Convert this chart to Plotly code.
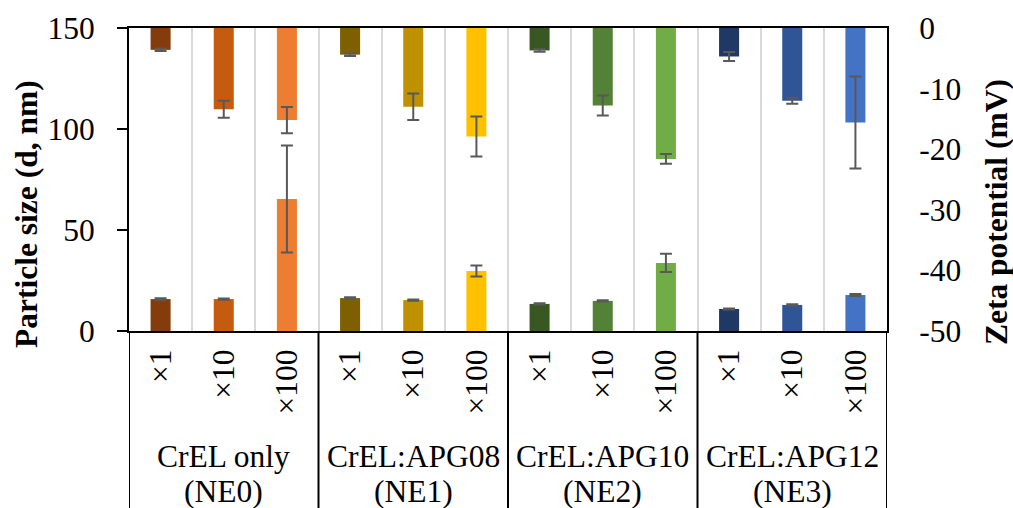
import plotly.graph_objects as go

# ---------------- data ----------------
groups = ["CrEL only", "CrEL:APG08", "CrEL:APG10", "CrEL:APG12"]
group_codes = ["(NE0)", "(NE1)", "(NE2)", "(NE3)"]
dilutions = ["×1", "×10", "×100"]

size_nm = [15.8, 15.8, 65.3, 16.3, 15.3, 29.7, 13.4, 14.9, 33.7, 10.9, 12.9, 17.8]
size_err = [0.4, 0.3, 26.5, 0.4, 0.3, 2.7, 0.3, 0.3, 4.5, 0.3, 0.3, 0.5]
zeta_mv = [-3.6, -13.4, -15.2, -4.4, -13.0, -17.9, -3.7, -12.8, -21.6, -4.7, -12.0, -15.6]
zeta_err = [0.2, 1.4, 2.15, 0.2, 2.2, 3.3, 0.2, 1.65, 0.8, 0.75, 0.5, 7.6]

size_ticks = [0, 50, 100, 150]
zeta_ticks = [0, -10, -20, -30, -40, -50]
zeta_ticktext = ["0", "-10", "-20", "-30", "-40", "-50"]

bar_colors = ["#843C0C", "#C55A11", "#ED7D31",
              "#7F6000", "#BF9000", "#FFC000",
              "#385723", "#538135", "#70AD47",
              "#203864", "#2F5597", "#4472C4"]

FONT = "Liberation Serif"
FS = 31.5
n = len(size_nm)
xpos = list(range(n))
ticklabels = dilutions * len(groups)

fig = go.Figure()
fig.add_trace(go.Bar(
    x=xpos, y=size_nm, width=0.317, marker=dict(color=bar_colors, line=dict(width=0)),
    error_y=dict(type="data", array=size_err, visible=True, color="#595959", thickness=2, width=6),
    yaxis="y", showlegend=False, name="Particle size"))
fig.add_trace(go.Bar(
    x=xpos, y=zeta_mv, width=0.317, marker=dict(color=bar_colors, line=dict(width=0)),
    error_y=dict(type="data", array=zeta_err, visible=True, color="#595959", thickness=2, width=6),
    yaxis="y2", showlegend=False, name="Zeta potential"))

L, R, T, B = 129, 126, 28, 177
W, H = 1013, 508
pw, ph = W - L - R, H - T - B

def px_to_paper_y(py):
    return (H - B - py) / ph

def px_to_paper_x(px):
    return (px - L) / pw

shapes = []
for xb in [-0.5, 2.5, 5.5, 8.5, 11.5]:
    shapes.append(dict(type="line", xref="x", yref="paper", x0=xb, x1=xb,
                       y0=0, y1=px_to_paper_y(H + 5), line=dict(color="black", width=2)))

annotations = []
for i, (g, c) in enumerate(zip(groups, group_codes)):
    xc = 3 * i + 1
    annotations.append(dict(x=xc, y=px_to_paper_y(456), xref="x", yref="paper", text=g,
                            showarrow=False, xanchor="center", yanchor="middle",
                            font=dict(family=FONT, size=FS, color="black")))
    annotations.append(dict(x=xc, y=px_to_paper_y(492), xref="x", yref="paper", text=c,
                            showarrow=False, xanchor="center", yanchor="middle",
                            font=dict(family=FONT, size=FS, color="black")))

annotations.append(dict(x=px_to_paper_x(26), y=px_to_paper_y(214), xref="paper", yref="paper",
                        text="<b>Particle size (d, nm)</b>", textangle=-90, showarrow=False,
                        xanchor="center", yanchor="middle",
                        font=dict(family=FONT, size=FS, color="black")))
annotations.append(dict(x=px_to_paper_x(996), y=px_to_paper_y(212), xref="paper", yref="paper",
                        text="<b>Zeta potential (mV)</b>", textangle=-90, showarrow=False,
                        xanchor="center", yanchor="middle",
                        font=dict(family=FONT, size=FS, color="black")))

fig.update_layout(
    width=W, height=H,
    margin=dict(l=L, r=R, t=T, b=B, pad=0),
    paper_bgcolor="white", plot_bgcolor="white",
    barmode="overlay",
    font=dict(family=FONT, size=FS, color="black"),
    xaxis=dict(range=[-0.5, 11.5], tickmode="array", tickvals=xpos, ticktext=ticklabels,
               tickangle=-90, ticks="", showgrid=False, zeroline=False,
               showline=True, linecolor="black", linewidth=2, mirror=True,
               tickfont=dict(family=FONT, size=FS, color="black"), ticklabelstandoff=4,
               minor=dict(tickmode="array", tickvals=[k + 0.5 for k in range(n - 1)],
                          showgrid=True, gridcolor="#D9D9D9", gridwidth=2, ticks=""),
               fixedrange=True),
    yaxis=dict(range=[0, 150], tickmode="array", tickvals=size_ticks,
               ticks="outside", ticklen=10, tickwidth=2, tickcolor="black",
               showline=True, linecolor="black", linewidth=2, showgrid=False, zeroline=False,
               tickfont=dict(family=FONT, size=FS, color="black"), ticklabelstandoff=16),
    yaxis2=dict(range=[-50, 0], overlaying="y", side="right", tickmode="array",
                tickvals=zeta_ticks, ticktext=zeta_ticktext, ticks="",
                showline=True, linecolor="black", linewidth=2, showgrid=False, zeroline=False,
                tickfont=dict(family=FONT, size=FS, color="black"), ticklabelstandoff=24),
    shapes=shapes,
    annotations=annotations,
)

fig.write_html("out.html")
